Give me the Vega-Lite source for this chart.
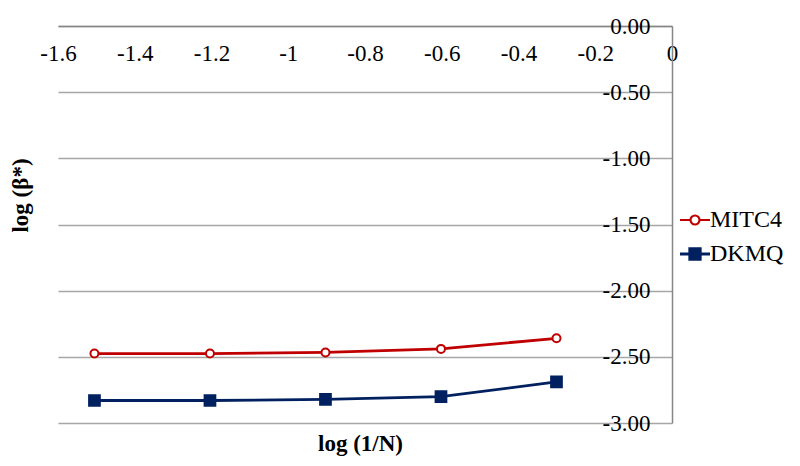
{
  "$schema": "https://vega.github.io/schema/vega-lite/v6.json",
  "autosize": {"type": "none"},
  "width": 614,
  "height": 397,
  "padding": {"left": 58, "top": 26, "right": 128, "bottom": 43},
  "background": "white",
  "config": {
    "view": {"stroke": null},
    "font": "Liberation Serif"
  },
  "data": {
    "values": [
      {"logN": -1.505, "beta": -2.475, "series": "MITC4"},
      {"logN": -1.204, "beta": -2.475, "series": "MITC4"},
      {"logN": -0.903, "beta": -2.467, "series": "MITC4"},
      {"logN": -0.602, "beta": -2.44, "series": "MITC4"},
      {"logN": -0.301, "beta": -2.36, "series": "MITC4"},
      {"logN": -1.505, "beta": -2.83, "series": "DKMQ"},
      {"logN": -1.204, "beta": -2.83, "series": "DKMQ"},
      {"logN": -0.903, "beta": -2.822, "series": "DKMQ"},
      {"logN": -0.602, "beta": -2.8, "series": "DKMQ"},
      {"logN": -0.301, "beta": -2.69, "series": "DKMQ"}
    ]
  },
  "encoding": {
    "x": {
      "field": "logN", "type": "quantitative",
      "scale": {"domain": [-1.6, 0], "nice": false, "zero": false},
      "axis": {
        "orient": "bottom", "offset": -397,
        "values": [-1.6, -1.4, -1.2, -1, -0.8, -0.6, -0.4, -0.2, 0],
        "labelExpr": "'' + datum.value",
        "ticks": false, "grid": false,
        "domainColor": "#868686", "domainWidth": 1.5,
        "labelFont": "Liberation Serif", "labelFontSize": 23, "labelColor": "black",
        "labelPadding": 16, "labelFlush": false, "labelOverlap": false,
        "title": "log (1/N)", "titleFont": "Liberation Serif", "titleFontSize": 23,
        "titleFontWeight": "bold", "titleColor": "black",
        "titleX": 302, "titleY": 417, "titleBaseline": "middle", "titleAlign": "center"
      }
    },
    "y": {
      "field": "beta", "type": "quantitative",
      "scale": {"domain": [-3, 0], "nice": false, "zero": false},
      "axis": {
        "orient": "left", "offset": -614,
        "values": [0, -0.5, -1, -1.5, -2, -2.5, -3],
        "labelExpr": "replace(format(datum.value, '.2f'), '−', '-')",
        "ticks": false, "grid": true,
        "gridColor": "#A6A6A6", "gridWidth": 1.5,
        "domainColor": "#868686", "domainWidth": 1.5,
        "labelFont": "Liberation Serif", "labelFontSize": 23, "labelColor": "black",
        "labelPadding": 22, "labelBaseline": "middle", "labelFlush": false, "labelOverlap": false,
        "title": "log (β*)", "titleFont": "Liberation Serif", "titleFontSize": 23,
        "titleFontWeight": "bold", "titleColor": "black",
        "titleX": -652, "titleY": 169, "titleAngle": -90, "titleBaseline": "middle", "titleAlign": "center"
      }
    }
  },
  "layer": [
    {
      "mark": {"type": "line", "strokeWidth": 2.8},
      "encoding": {
        "color": {
          "field": "series", "type": "nominal",
          "scale": {"domain": ["MITC4", "DKMQ"], "range": ["#C00000", "#002060"]},
          "legend": {
            "orient": "none", "legendX": 625, "legendY": 182,
            "title": null,
            "labelFont": "Liberation Serif", "labelFontSize": 24, "labelColor": "black",
            "symbolSize": 900, "symbolStrokeWidth": 2.8,
            "rowPadding": 10, "labelOffset": 3,
            "encode": {
              "symbols": {
                "update": {
                  "shape": {"signal": "datum.value === 'MITC4' ? 'M-1,0H-0.3M0.3,0H1M-0.3,0A0.3,0.3,0,1,0,0.3,0A0.3,0.3,0,1,0,-0.3,0Z' : 'M-1,0H1M-0.35,-0.35H0.35V0.35H-0.35Z'"},
                  "fill": {"signal": "datum.value === 'MITC4' ? 'white' : '#002060'"},
                  "stroke": {"signal": "datum.value === 'MITC4' ? '#C00000' : '#002060'"},
                  "opacity": {"value": 1},
                  "fillOpacity": {"value": 1},
                  "strokeWidth": {"signal": "datum.value === 'MITC4' ? 2.2 : 2.8"}
                }
              }
            }
          }
        }
      }
    },
    {
      "mark": {"type": "point", "filled": false, "strokeWidth": 2, "opacity": 1},
      "encoding": {
        "shape": {
          "field": "series", "type": "nominal",
          "scale": {"domain": ["MITC4", "DKMQ"], "range": ["circle", "square"]},
          "legend": null
        },
        "fill": {
          "field": "series", "type": "nominal",
          "scale": {"domain": ["MITC4", "DKMQ"], "range": ["white", "#002060"]},
          "legend": null
        },
        "stroke": {
          "field": "series", "type": "nominal",
          "scale": {"domain": ["MITC4", "DKMQ"], "range": ["#C00000", "#002060"]},
          "legend": null
        },
        "size": {
          "field": "series", "type": "nominal",
          "scale": {"domain": ["MITC4", "DKMQ"], "range": [64, 115]},
          "legend": null
        }
      }
    }
  ],
  "resolve": {
    "scale": {"shape": "independent", "fill": "independent", "stroke": "independent", "size": "independent"},
    "legend": {"color": "independent", "shape": "independent", "fill": "independent", "stroke": "independent", "size": "independent"}
  }
}
